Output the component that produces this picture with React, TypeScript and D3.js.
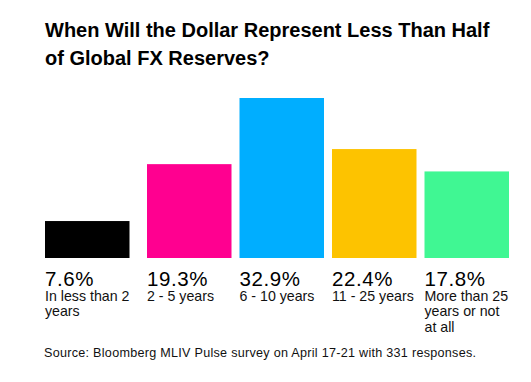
import React from "react";
import * as d3 from "d3";

const categories = ["In less than 2 years", "2 - 5 years", "6 - 10 years", "11 - 25 years", "More than 25 years or not at all"];
const labelLines = [["In less than 2", "years"], ["2 - 5 years"], ["6 - 10 years"], ["11 - 25 years"], ["More than 25", "years or not", "at all"]];
const values = [7.6, 19.3, 32.9, 22.4, 17.8];
const colors = ["#000000", "#ff0090", "#00aeff", "#fdc300", "#40f793"];
const titleLines = ["When Will the Dollar Represent Less Than Half", "of Global FX Reserves?"];
const source = "Source: Bloomberg MLIV Pulse survey on April 17-21 with 331 responses.";

const W = 531;
const H = 382;
const FONT = "'Liberation Sans', Arial, Helvetica, sans-serif";

export default function App() {
  const x = d3
    .scaleBand<string>()
    .domain(categories)
    .range([45, 499.5])
    .paddingInner(0.0865)
    .paddingOuter(0);
  const firstGap = 9.5;
  const xPos = (c: string, i: number) => (x(c) as number) + (i > 0 ? firstGap : 0);
  const y = d3.scaleLinear().domain([0, d3.max(values) as number]).range([258, 98]);

  return (
    <svg width={W} height={H} style={{ position: "absolute", left: 0, top: 0, background: "#fff" }} fontFamily={FONT}>
      <rect x={0} y={0} width={W} height={H} fill="#fff" />
      {titleLines.map((t, i) => (
        <text key={t} x={45} y={36.5 + i * 28.5} fontSize={20} fontWeight="bold" fill="#000">
          {t}
        </text>
      ))}
      {categories.map((c, i) => (
        <g key={c}>
          <rect x={xPos(c, i)} y={y(values[i])} width={x.bandwidth()} height={y(0) - y(values[i])} fill={colors[i]} />
          <text x={xPos(c, i)} y={285.8} fontSize={20.5} letterSpacing={0.6} fill="#000">
            {d3.format(".1f")(values[i])}%
          </text>
          {labelLines[i].map((l, j) => (
            <text key={j} x={xPos(c, i)} y={300.6 + j * 15.8} fontSize={14.2} fill="#111">
              {l}
            </text>
          ))}
        </g>
      ))}
      <text x={44} y={357.3} fontSize={12.6} textLength={432} lengthAdjust="spacing" fill="#111">
        {source}
      </text>
    </svg>
  );
}
